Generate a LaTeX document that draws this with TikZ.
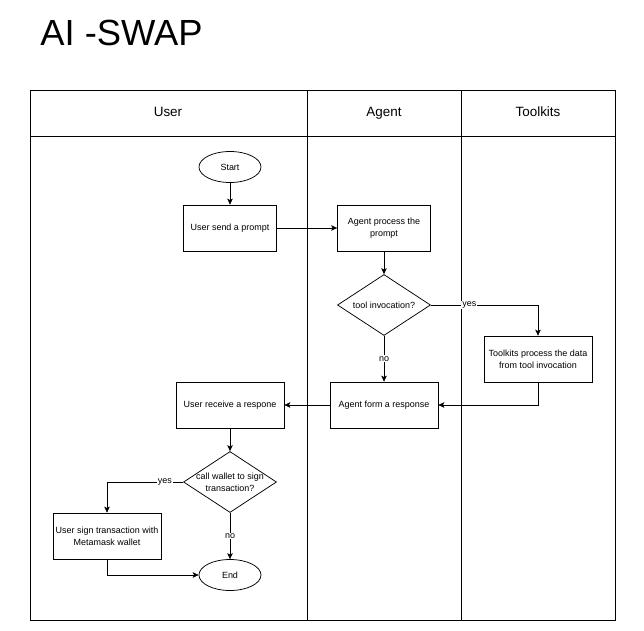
\documentclass[tikz,border=0pt]{standalone}
\usepackage{fontspec}
\setmainfont{Liberation Sans}
\usepackage{tikz}
\usetikzlibrary{shapes.geometric,arrows.meta}
\usetikzlibrary{calc,backgrounds}
\tikzstyle{swim}=[
  >={Stealth[length=6bp,width=5.5bp,inset=1.5bp]},line width=0.75bp,font=\fontsize{9}{12}\selectfont
]
\tikzstyle{procbox}=[
  draw,fill=white,inner sep=2pt,minimum width=108bp,minimum height=46bp,align=center
]
\tikzstyle{terminal}=[
  draw,ellipse,fill=white,inner sep=0pt,minimum width=62bp,minimum height=31bp
]
\tikzstyle{decision}=[
  draw,diamond,fill=white,inner sep=0pt,minimum width=93bp,minimum height=61bp
]
\tikzstyle{flowedge}=[
  ->
]
\tikzstyle{edgelabel}=[
  fill=white,inner sep=1pt
]
\tikzstyle{lanehead}=[
  font=\fontsize{13.5}{16}\selectfont,text height=10bp,text depth=3bp
]

\begin{document}
\begin{tikzpicture}[swim]
    \useasboundingbox (0bp,0bp) rectangle (644bp,-631bp);

    \node (title) at (40bp,-45bp) [anchor=base west,inner sep=0pt,font=\fontsize{36.5}{40}\selectfont] {AI -SWAP};

    \node (user) at (168bp,-113bp) [lanehead] {User};
    \node (agent) at (384bp,-113bp) [lanehead] {Agent};
    \node (toolkits) at (538bp,-113bp) [lanehead] {Toolkits};

    \node (start) at (230bp,-167bp) [terminal] {Start};
    \node (send) at ($(start) + (0bp, -61bp)$) [procbox,minimum width=93bp] {User send a prompt};
    \node (process) at ($(send) + (154bp, 0bp)$) [procbox,minimum width=93bp] {Agent process the\\prompt};
    \node (tool) at ($(process) + (0bp, -77bp)$) [decision,label={center:tool invocation?}] {};
    \node (tkproc) at ($(tool) + (154bp, -54bp)$) [procbox] {Toolkits process the data\\from tool invocation};
    \node (form) at ($(process) + (0bp, -177bp)$) [procbox] {Agent form a response};
    \node (receive) at ($(form) + (-154bp, 0bp)$) [procbox] {User receive a respone};
    \node (wallet) at ($(receive) + (0bp, -77bp)$) [decision,label={[align=center]center:call wallet to sign\\transaction?}] {};
    \node (sign) at ($(wallet) + (-123bp, -54bp)$) [procbox] {User sign transaction with\\Metamask wallet};
    \node (finish) at ($(wallet) + (0bp, -93bp)$) [terminal] {End};

    \begin{scope}[on background layer]
      \draw (30bp,-90bp) rectangle (615bp,-620bp);
      \draw (30bp,-136bp) -- (615bp,-136bp);
      \draw (307bp,-90bp) -- (307bp,-620bp);
      \draw (461bp,-90bp) -- (461bp,-620bp);

      \draw [flowedge] (start) -- (send);
      \draw [flowedge] (send) -- (process);
      \draw [flowedge] (process) -- (tool);
      \draw [flowedge] (tool.east) -| node [edgelabel,pos=0.18] {yes} (tkproc.north);
      \draw [flowedge] (tool) -- node [edgelabel] {no} (form);
      \draw [flowedge] (tkproc.south) |- (form.east);
      \draw [flowedge] (form) -- (receive);

      \draw [flowedge] (receive) -- (wallet);
      \draw [flowedge] (wallet.west) -| node [edgelabel,pos=0.12] {yes} (sign.north);
      \draw [flowedge] (wallet) -- node [edgelabel] {no} (finish);
      \draw [flowedge] (sign.south) |- (finish.west);
    \end{scope}

  \end{tikzpicture}
\end{document}
